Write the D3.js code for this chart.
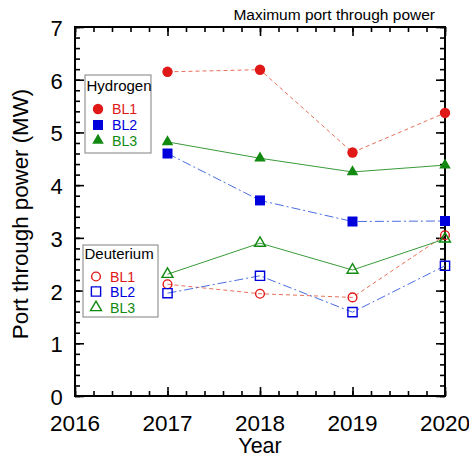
<!DOCTYPE html>
<html>
<head>
<meta charset="utf-8">
<script src="https://cdn.jsdelivr.net/npm/d3@7"></script>
<style>
  body { margin: 0; background: #fff; }
  svg { display: block; font-family: "Liberation Sans", Arial, sans-serif; }
</style>
</head>
<body>
<svg id="chart" width="469" height="458"></svg>
<script>
// Years and port through power (MW) per beamline
const years = [2017, 2018, 2019, 2020];
const h_BL1 = [6.15, 6.19, 4.62, 5.37];
const h_BL2 = [4.60, 3.71, 3.31, 3.32];
const h_BL3 = [4.82, 4.51, 4.25, 4.38];
const d_BL1 = [2.12, 1.94, 1.87, 3.05];
const d_BL2 = [1.95, 2.28, 1.59, 2.47];
const d_BL3 = [2.31, 2.90, 2.39, 2.98];
const xTicks = [2016, 2017, 2018, 2019, 2020];
const yTicks = [0, 1, 2, 3, 4, 5, 6, 7];

const svg = d3.select("#chart");
const pLeft = 75, pRight = 445, pTop = 27, pBottom = 396;

const x = d3.scaleLinear().domain([2016, 2020]).range([pLeft, pRight]);
const y = d3.scaleLinear().domain([0, 7]).range([pBottom, pTop]);

const red = "#e01818", blue = "#0000dd", green = "#128a12";
const redLine = "#e8705a", blueLine = "#4a6ee0", greenLine = "#3a9a3a";

// Minor ticks every 0.2
const xMinor = d3.range(2016, 2020.001, 0.2);
const yMinor = d3.range(0, 7.001, 0.2);

// Axes with inward ticks on all four sides
function addAxis(axis, tx, ty) {
  const g = svg.append("g").attr("transform", `translate(${tx},${ty})`).call(axis);
  g.select(".domain").remove();
  g.selectAll("line").attr("stroke", "#000").attr("stroke-width", 1.6);
  g.selectAll("text").remove();
  return g;
}
addAxis(d3.axisBottom(x).tickValues(xMinor).tickSize(-5), 0, pBottom);
addAxis(d3.axisBottom(x).tickValues(xTicks).tickSize(-9), 0, pBottom);
addAxis(d3.axisTop(x).tickValues(xMinor).tickSize(-5), 0, pTop);
addAxis(d3.axisTop(x).tickValues(xTicks).tickSize(-9), 0, pTop);
addAxis(d3.axisLeft(y).tickValues(yMinor).tickSize(-5), pLeft, 0);
addAxis(d3.axisLeft(y).tickValues(yTicks).tickSize(-9), pLeft, 0);
addAxis(d3.axisRight(y).tickValues(yMinor).tickSize(-5), pRight, 0);
addAxis(d3.axisRight(y).tickValues(yTicks).tickSize(-9), pRight, 0);

// Frame
svg.append("rect")
  .attr("x", pLeft).attr("y", pTop)
  .attr("width", pRight - pLeft).attr("height", pBottom - pTop)
  .attr("fill", "none").attr("stroke", "#000").attr("stroke-width", 2);

// Tick labels
svg.append("g").selectAll("text").data(xTicks).join("text")
  .attr("x", d => x(d)).attr("y", 431)
  .attr("text-anchor", "middle").attr("font-size", 22.5)
  .text(d => d);
svg.append("g").selectAll("text").data(yTicks).join("text")
  .attr("x", 56.5).attr("y", d => y(d) + 9)
  .attr("text-anchor", "middle").attr("font-size", 22)
  .text(d => d);

// Axis titles
svg.append("text").attr("x", x(2018)).attr("y", 453)
  .attr("text-anchor", "middle").attr("font-size", 21.5).text("Year");
svg.append("text")
  .attr("transform", `translate(28,214) rotate(-90)`)
  .attr("text-anchor", "middle").attr("font-size", 22.3)
  .text("Port through power (MW)");
svg.append("text").attr("x", 435).attr("y", 20)
  .attr("text-anchor", "end").attr("font-size", 15.5)
  .text("Maximum port through power");

// Series definitions
const series = [
  { vals: h_BL1, color: red, line: redLine, dash: "4,3", sym: d3.symbolCircle, filled: true },
  { vals: h_BL2, color: blue, line: blueLine, dash: "9,3,2,3", sym: d3.symbolSquare, filled: true },
  { vals: h_BL3, color: green, line: greenLine, dash: null, sym: d3.symbolTriangle, filled: true },
  { vals: d_BL1, color: red, line: redLine, dash: "4,3", sym: d3.symbolCircle, filled: false },
  { vals: d_BL2, color: blue, line: blueLine, dash: "9,3,2,3", sym: d3.symbolSquare, filled: false },
  { vals: d_BL3, color: green, line: greenLine, dash: null, sym: d3.symbolTriangle, filled: false }
];

const line = d3.line().x((d, i) => x(years[i])).y(d => y(d));

// Marker sizes (area in px^2)
function symPath(s) {
  let size;
  if (s.sym === d3.symbolSquare) size = s.filled ? 100 : 85;
  else if (s.sym === d3.symbolTriangle) size = s.filled ? 58 : 52;
  else size = s.filled ? 85 : 60;
  return d3.symbol().type(s.sym).size(size)();
}

series.forEach(s => {
  svg.append("path").datum(s.vals)
    .attr("d", line).attr("fill", "none")
    .attr("stroke", s.line).attr("stroke-width", 1)
    .attr("stroke-dasharray", s.dash);
});
series.forEach(s => {
  svg.append("g").selectAll("path").data(s.vals).join("path")
    .attr("transform", (d, i) => `translate(${x(years[i])},${y(d)})`)
    .attr("d", symPath(s))
    .attr("fill", s.filled ? s.color : "none")
    .attr("stroke", s.color).attr("stroke-width", s.filled ? 0 : 1.4);
});

// Legends
function legend(box, title, rows, items, filled) {
  const g = svg.append("g");
  g.append("rect").attr("x", box.x).attr("y", box.y).attr("width", box.w).attr("height", box.h)
    .attr("fill", "#fff").attr("stroke", "#808080").attr("stroke-width", 1);
  g.append("text").attr("x", box.x + 1.5).attr("y", box.y + title.dy)
    .attr("font-size", 15).text(title.text);
  items.forEach((it, i) => {
    const cy = box.y + rows[i];
    g.append("path")
      .attr("transform", `translate(${box.x + 13},${cy})`)
      .attr("d", symPath({ sym: it.sym, filled }))
      .attr("fill", filled ? it.color : "none")
      .attr("stroke", it.color).attr("stroke-width", filled ? 0 : 1.4);
    g.append("text").attr("x", box.x + 27).attr("y", cy + 5)
      .attr("font-size", 14.2).attr("fill", it.color).text(it.name);
  });
}
const legendItems = [
  { name: "BL1", color: red, sym: d3.symbolCircle },
  { name: "BL2", color: blue, sym: d3.symbolSquare },
  { name: "BL3", color: green, sym: d3.symbolTriangle }
];
legend({ x: 85, y: 75, w: 66, h: 78 }, { text: "Hydrogen", dy: 15.5 }, [34, 50, 65.5], legendItems, true);
legend({ x: 83, y: 245, w: 75, h: 72 }, { text: "Deuterium", dy: 13.5 }, [31.5, 46.5, 62.5], legendItems, false);
</script>
</body>
</html>
